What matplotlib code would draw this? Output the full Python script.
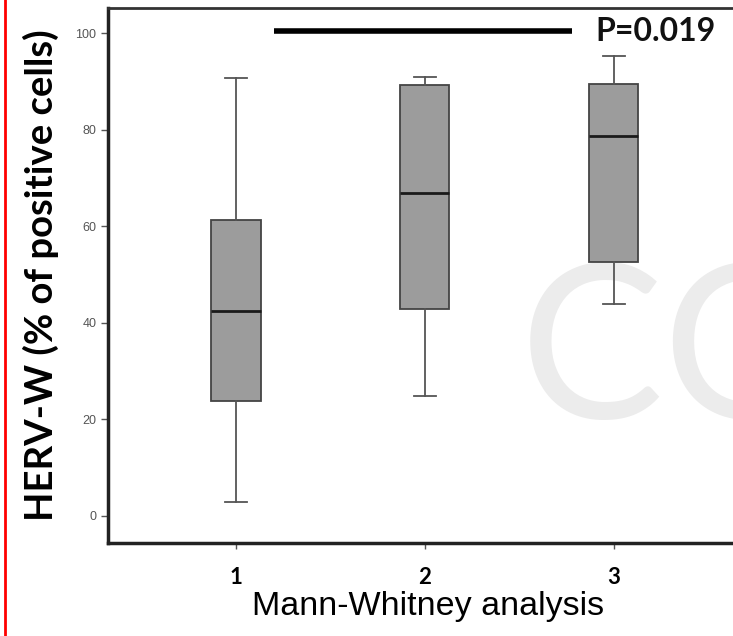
import matplotlib.pyplot as plt
from matplotlib.lines import Line2D

# ---- data ----
groups = ["1", "2", "3"]
whislo = [2.8, 24.9, 44.0]
q1 = [23.9, 42.8, 52.6]
med = [42.4, 66.9, 78.7]
q3 = [61.2, 89.3, 89.4]
whishi = [90.8, 91.0, 95.3]
sig_pair = (1.2, 2.78)
sig_y = 100.4
sig_label = "P=0.019"

fig = plt.figure(figsize=(7.33, 6.36), dpi=100)
ax = fig.add_axes([108 / 733, 93 / 636, 693 / 733, 535 / 636])

stats = []
for i, g in enumerate(groups):
    stats.append(dict(label=g, whislo=whislo[i], q1=q1[i], med=med[i],
                      q3=q3[i], whishi=whishi[i], fliers=[]))

positions = [1, 2, 3]
ax.bxp(stats, positions=positions, widths=0.26, patch_artist=True,
       showfliers=False,
       boxprops=dict(facecolor="#9c9c9c", edgecolor="#444444", linewidth=1.3),
       medianprops=dict(color="#1a1a1a", linewidth=2.0),
       whiskerprops=dict(color="#555555", linewidth=1.3),
       capprops=dict(color="#555555", linewidth=1.3),
       capwidths=0.12)

# significance bar
ax.plot(sig_pair, [sig_y, sig_y], color="black", linewidth=4, solid_capstyle="butt",
        clip_on=False)
ax.text(2.9, sig_y, sig_label, fontsize=23, fontweight="bold", family="Lato",
        color="#111111", va="center", ha="left")

# faint watermark in the lower right, cut by the edge as in the source
ax.text(2.5, 33, "CO", fontsize=155, color="#ececec", family="Lato",
        va="center", ha="left", zorder=0)

ax.set_xlim(0.323, 3.99)
ax.set_ylim(-5.6, 105.2)
ax.set_xticks(positions)
ax.set_xticklabels(groups, fontsize=16, fontweight="bold", family="Lato")
ax.set_yticks([0, 20, 40, 60, 80, 100])
ax.tick_params(axis="y", labelsize=9, labelcolor="#555555", color="#555555",
               length=5, width=1)
ax.tick_params(axis="x", color="#555555", length=4, width=1, pad=13)
for lab in ax.get_yticklabels():
    lab.set_family("Liberation Sans")

for s in ["left", "bottom"]:
    ax.spines[s].set_linewidth(2.5)
    ax.spines[s].set_color("#222222")
ax.spines["top"].set_linewidth(2)
ax.spines["top"].set_color("#333333")
ax.spines["right"].set_visible(False)

ax.set_ylabel("HERV-W (% of positive cells)", fontsize=27.5, fontweight="bold",
              family="Lato", labelpad=12)
ax.set_xlabel("Mann-Whitney analysis", fontsize=24.5, family="Liberation Sans")
ax.xaxis.set_label_coords(0.462, -0.118)
ax.xaxis.label.set_va("center")

# red margin line on the left
fig.add_artist(Line2D([5 / 733, 5 / 733], [0, 1], color="red", linewidth=2,
                      transform=fig.transFigure))

fig.savefig("out.png", dpi=100)
